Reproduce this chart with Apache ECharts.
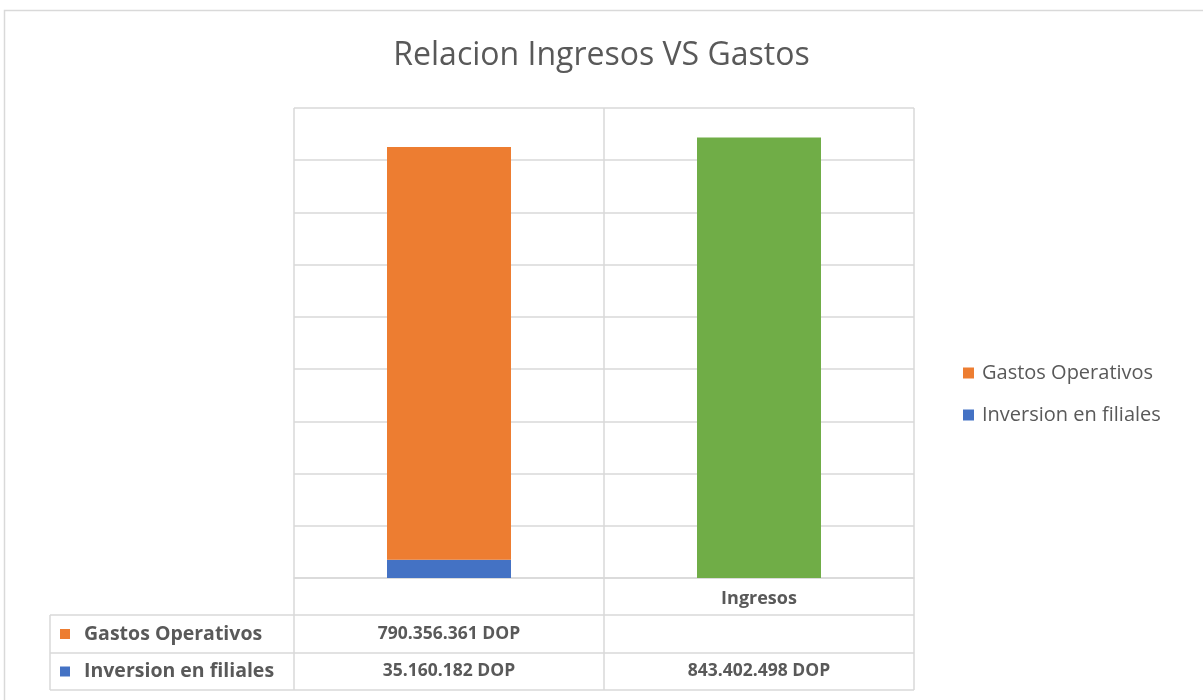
<!DOCTYPE html>
<html>
<head>
<meta charset="utf-8">
<script src="https://cdn.jsdelivr.net/npm/echarts@6/dist/echarts.min.js"></script>
<style>
  html, body { margin: 0; padding: 0; background: #fff; }
  #chart { width: 1203px; height: 700px; }
</style>
</head>
<body>
<div id="chart"></div>
<script>
// datos del grafico
const categories = ['', 'Ingresos'];
const seriesNames = ['Gastos Operativos', 'Inversion en filiales'];
const seriesColors = ['#ED7D31', '#4472C4'];
const gastosOperativos = [790356361, null];
const inversionFiliales = [35160182, 843402498];
const barColors = [null, '#70AD47']; // color especial por categoria (Ingresos en verde)

const FONT = '"Open Sans", sans-serif';
const GRID_COLOR = '#D9D9D9';
const TEXT_COLOR = '#595959';

// formato 790.356.361 DOP
function fmt(v) {
  if (v == null) return '';
  return String(v).replace(/\B(?=(\d{3})+(?!\d))/g, '.') + ' DOP';
}

let chart = echarts.init(document.getElementById('chart'));

let chartConfig = {
  animation: false,
  title: {
    text: 'Relacion Ingresos VS Gastos',
    left: 'center',
    top: 35,
    textStyle: { fontFamily: FONT, fontSize: 32, fontWeight: 'normal', color: TEXT_COLOR }
  },
  legend: {
    data: seriesNames,
    orient: 'vertical',
    left: 958,
    top: 358,
    itemWidth: 11,
    itemHeight: 11,
    itemGap: 22,
    icon: 'rect',
    textStyle: { fontFamily: FONT, fontSize: 20, color: TEXT_COLOR, padding: [0, 0, 0, 3] }
  },
  grid: { left: 294, right: 289, top: 108, bottom: 122 },
  xAxis: {
    type: 'category',
    data: categories,
    axisLine: { lineStyle: { color: GRID_COLOR, width: 1.5 } },
    axisTick: { show: false },
    splitLine: { show: true, lineStyle: { color: GRID_COLOR, width: 1.5 } },
    axisLabel: { margin: 12, fontFamily: FONT, fontSize: 18, fontWeight: 'bold', color: TEXT_COLOR }
  },
  yAxis: {
    type: 'value',
    min: 0,
    max: 900000000,
    interval: 100000000,
    axisLabel: { show: false },
    axisLine: { show: false },
    axisTick: { show: false },
    splitLine: { lineStyle: { color: GRID_COLOR, width: 1.5 } }
  },
  series: [
    {
      name: seriesNames[1],
      type: 'bar',
      stack: 'total',
      barWidth: '40%',
      itemStyle: { color: seriesColors[1] },
      data: inversionFiliales.map((v, i) => barColors[i] ? { value: v, itemStyle: { color: barColors[i] } } : v)
    },
    {
      name: seriesNames[0],
      type: 'bar',
      stack: 'total',
      barWidth: '40%',
      itemStyle: { color: seriesColors[0] },
      data: gastosOperativos
    }
  ]
};

chart.setOption(chartConfig);

// tabla de datos debajo del grafico
const rowTops = [578, 615, 653, 690];
const tableLeft = 50;
const xs = categories.map((c, i) => chart.convertToPixel({ xAxisIndex: 0 }, i));
const colW = xs[1] - xs[0];
const colEdges = [xs[0] - colW / 2, xs[0] + colW / 2, xs[1] + colW / 2];
const lineStyle = { stroke: GRID_COLOR, lineWidth: 1.5 };
let graphic = [];

// borde exterior
graphic.push({ type: 'rect', shape: { x: 4.5, y: 10.5, width: 1210, height: 700 }, style: { fill: 'none', stroke: '#D9D9D9', lineWidth: 1.5 }, silent: true });

// lineas horizontales
[rowTops[1], rowTops[2], rowTops[3]].forEach(y => {
  graphic.push({ type: 'line', shape: { x1: tableLeft, y1: y, x2: colEdges[2], y2: y }, style: lineStyle, silent: true });
});
// lineas verticales
graphic.push({ type: 'line', shape: { x1: tableLeft, y1: rowTops[1], x2: tableLeft, y2: rowTops[3] }, style: lineStyle, silent: true });
colEdges.forEach(x => {
  graphic.push({ type: 'line', shape: { x1: x, y1: rowTops[0], x2: x, y2: rowTops[3] }, style: lineStyle, silent: true });
});

const rows = [gastosOperativos, inversionFiliales];
rows.forEach((vals, r) => {
  const cy = (rowTops[r + 1] + rowTops[r + 2]) / 2;
  // clave de leyenda
  graphic.push({ type: 'rect', shape: { x: 60, y: cy - 5, width: 10, height: 10 }, style: { fill: seriesColors[r] }, silent: true });
  graphic.push({
    type: 'text', x: 84, y: cy,
    style: { text: seriesNames[r], fontFamily: FONT, fontSize: 19.5, fontWeight: 'bold', fill: TEXT_COLOR, verticalAlign: 'middle' },
    silent: true
  });
  vals.forEach((v, i) => {
    graphic.push({
      type: 'text', x: xs[i], y: cy,
      style: { text: fmt(v), fontFamily: FONT, fontSize: 17.5, fontWeight: 'bold', fill: TEXT_COLOR, align: 'center', verticalAlign: 'middle' },
      silent: true
    });
  });
});

chart.setOption({ graphic: graphic });

window.addEventListener('resize', function () {
  chart.resize();
});
</script>
</body>
</html>
